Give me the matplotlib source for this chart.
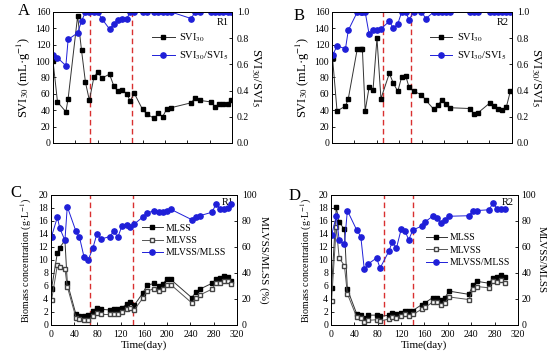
import matplotlib
matplotlib.use('Agg')
import matplotlib.pyplot as plt

plt.rcParams['font.family'] = ['Liberation Serif', 'DejaVu Serif']
plt.rcParams['mathtext.fontset'] = 'stix'
plt.rcParams['xtick.direction'] = 'in'
plt.rcParams['ytick.direction'] = 'in'

# ---- data ----
# A: reactor R1, sludge volume index
a_day = [0, 8, 23, 27, 44, 51, 58, 65, 73, 80, 87, 101, 109, 116, 123, 132, 138, 145, 160, 168,
         181, 188, 196, 203, 211, 247, 254, 262, 283, 290, 297, 304, 312, 318]
a_svi = [100, 50, 38, 54, 155, 113, 74, 52, 80, 87, 79, 84, 69, 63, 65, 60, 51, 61, 41, 35,
         30, 36, 32, 41, 43, 49, 55, 52, 50, 44, 47, 48, 47, 53]
a_ratio = [0.67, 0.65, 0.59, 0.79, 0.84, 0.93, 1, 1, 1, 1, 0.95, 0.87, 0.91, 0.94, 0.95, 0.95, 1, 1, 1, 1,
           1, 1, 1, 1, 1, 0.95, 1, 1, 1, 1, 1, 1, 1, 1]

# B: reactor R2
b_day = [1, 9, 24, 29, 45, 51, 54, 59, 66, 73, 80, 87, 102, 109, 117, 124, 131, 137, 145, 159,
         167, 181, 188, 195, 202, 209, 245, 253, 260, 281, 288, 296, 303, 310, 317]
b_svi = [104, 39, 45, 54, 115, 115, 115, 39, 68, 65, 128, 54, 85, 73, 63, 81, 82, 68, 63, 59,
         52, 41, 46, 52, 48, 43, 42, 35, 37, 49, 45, 42, 40, 44, 63]
b_ratio = [0.67, 0.74, 0.72, 0.86, 1, 1, 1, 1, 0.83, 0.86, 0.86, 0.87, 0.93, 0.875, 0.91, 1, 1, 0.94, 1, 1,
           0.95, 1, 1, 1, 1, 1, 1, 1, 1, 1, 1, 1, 1, 1, 1]

# C: R1 biomass
c_day = [1, 11, 15, 24, 28, 43, 49, 57, 64, 72, 79, 86, 101, 108, 115, 122, 130, 136, 143, 158,
         165, 178, 185, 192, 199, 206, 242, 249, 256, 277, 284, 291, 297, 305, 310]
c_mlss = [5.6, 11.1, 11.9, 13.0, 6.5, 1.6, 1.3, 1.4, 1.5, 2.2, 2.6, 2.4, 2.3, 2.4, 2.4, 2.6, 3.2, 3.5, 3.0, 4.9,
          6.1, 6.4, 6.0, 6.3, 7.0, 7.0, 4.2, 5.0, 5.5, 6.4, 7.0, 7.2, 7.5, 7.4, 6.8]
c_mlvss = [3.8, 9.2, 8.9, 8.6, 5.9, 1.1, 0.9, 0.8, 0.8, 1.3, 1.8, 1.6, 1.6, 1.7, 1.6, 2.0, 2.4, 2.6, 2.3, 4.1,
           5.2, 5.6, 5.2, 5.5, 6.1, 6.2, 3.4, 4.1, 4.6, 5.5, 6.5, 6.4, 6.7, 6.7, 6.3]
c_ratio = [68, 83, 74.5, 65, 91, 72, 67.5, 52, 50, 59, 70, 66, 68, 72, 67.5, 76, 77, 75, 77.5, 83,
           86, 88, 87, 86.7, 87.5, 89, 81, 83, 84, 86.7, 93, 89, 89, 90, 93]

# D: R2 biomass
d_day = [1, 9, 14, 23, 28, 44, 51, 57, 64, 78, 84, 99, 105, 112, 120, 127, 133, 140, 155, 161,
         174, 181, 188, 195, 202, 236, 243, 250, 271, 277, 284, 291, 298]
d_mlss = [5.7, 18.1, 15.8, 14.7, 5.5, 1.7, 1.5, 1.0, 1.5, 1.5, 1.3, 1.5, 1.8, 1.7, 1.9, 2.2, 2.2, 2.2, 3.1, 3.4,
          4.2, 4.2, 3.9, 4.2, 5.2, 4.7, 6.2, 6.7, 6.4, 7.2, 7.4, 7.7, 7.3]
d_mlvss = [3.7, 15.1, 10.3, 9.1, 4.8, 1.2, 1.0, 0.4, 0.7, 0.8, 0.6, 0.9, 1.2, 1.0, 1.4, 1.6, 1.4, 1.6, 2.4, 2.7,
           3.5, 3.5, 3.1, 3.4, 4.3, 3.9, 5.5, 5.9, 5.7, 6.8, 6.6, 6.9, 6.5]
d_ratio = [69, 83.6, 65.4, 62, 88, 73, 68, 42.7, 47, 51.5, 43.7, 56.6, 64, 59, 73.5, 72, 65.4, 73, 76, 79.3,
           83.6, 82.3, 78.5, 81, 83.6, 84, 88, 88, 88.6, 94, 89.4, 89.4, 89.4]

stage_r1 = [67, 141]
stage_r2 = [90, 140]

BLUE = '#1f1fd8'
RED = '#d93030'

fig = plt.figure(figsize=(5.5, 3.59), dpi=100)


def base_axes(rect, ymax, ystep, r_max, r_step, stages, xlabels):
    ax = fig.add_axes(rect)
    ax2 = ax.twinx()
    ax.set_xlim(0, 320)
    ax.set_xticks(range(0, 321, 40))
    ax.set_ylim(0, ymax)
    ax.set_yticks([ystep * i for i in range(int(ymax / ystep) + 1)])
    ax2.set_ylim(0, r_max)
    ax2.set_yticks([r_step * i for i in range(int(round(r_max / r_step)) + 1)])
    ax.tick_params(axis='y', labelsize=7, length=2.5, width=0.6, pad=2)
    ax.tick_params(axis='x', labelsize=7, length=2.5, width=0.6, pad=4)
    ax2.tick_params(labelsize=7, length=2.5, width=0.6, pad=3.5)
    for a in (ax, ax2):
        for s in a.spines.values():
            s.set_linewidth(0.7)
    if not xlabels:
        ax.set_xticklabels([])
    for d in stages:
        ax.axvline(d, color=RED, ls=(0, (4, 2.5)), lw=1.0, zorder=1)
    ax2.set_zorder(ax.get_zorder() + 1)
    return ax, ax2


# A
ax, ax2 = base_axes([0.0964, 0.602, 0.3254, 0.3646], 160, 20, 1.0, 0.2, stage_r1, False)
l1, = ax.plot(a_day, a_svi, color='#333333', lw=0.7, marker='s', ms=3.4, mfc='black', mec='black', label='SVI$_{30}$')
l2, = ax2.plot(a_day, a_ratio, color=BLUE, lw=0.7, marker='o', ms=3.8, mfc=BLUE, mec=BLUE, label='SVI$_{30}$/SVI$_5$')
ax2.set_yticklabels(['0.0', '0.2', '0.4', '0.6', '0.8', '1.0'])
ax.set_ylabel('SVI$_{30}$ (mL·g$^{-1}$)', fontsize=9, labelpad=2)
ax2.set_ylabel('SVI$_{30}$/SVI$_5$', fontsize=9, rotation=270, labelpad=10)
ax2.legend([l1, l2], [l1.get_label(), l2.get_label()], loc='center left', bbox_to_anchor=(0.5, 0.735),
           frameon=False, fontsize=7.5, handlelength=2.2, handletextpad=0.4, labelspacing=0.5)
ax.text(0.98, 0.9, 'R1', transform=ax.transAxes, ha='right', fontsize=7.5, zorder=5)
fig.text(0.033, 0.97, 'A', fontsize=12, va='center')

# B
ax, ax2 = base_axes([0.6036, 0.602, 0.3273, 0.3646], 160, 20, 1.0, 0.2, stage_r2, False)
l1, = ax.plot(b_day, b_svi, color='#333333', lw=0.7, marker='s', ms=3.4, mfc='black', mec='black', label='SVI$_{30}$')
l2, = ax2.plot(b_day, b_ratio, color=BLUE, lw=0.7, marker='o', ms=3.8, mfc=BLUE, mec=BLUE, label='SVI$_{30}$/SVI$_5$')
ax2.set_yticklabels(['0.0', '0.2', '0.4', '0.6', '0.8', '1.0'])
ax.set_ylabel('SVI$_{30}$ (mL·g$^{-1}$)', fontsize=9, labelpad=2)
ax2.set_ylabel('SVI$_{30}$/SVI$_5$', fontsize=9, rotation=270, labelpad=10)
ax2.legend([l1, l2], [l1.get_label(), l2.get_label()], loc='center left', bbox_to_anchor=(0.49, 0.735),
           frameon=False, fontsize=7.5, handlelength=2.2, handletextpad=0.4, labelspacing=0.5)
ax.text(0.98, 0.9, 'R2', transform=ax.transAxes, ha='right', fontsize=7.5, zorder=5)
fig.text(0.533, 0.955, 'B', fontsize=12, va='center')

# C
ax, ax2 = base_axes([0.0927, 0.095, 0.3382, 0.362], 20, 2, 100, 20, stage_r1, True)
l1, = ax.plot(c_day, c_mlss, color='#333333', lw=0.7, marker='s', ms=3.4, mfc='black', mec='black', label='MLSS')
l2, = ax.plot(c_day, c_mlvss, color='#555555', lw=0.7, marker='s', ms=3.4, mfc='white', mec='#444444', label='MLVSS')
l3, = ax2.plot(c_day, c_ratio, color=BLUE, lw=0.7, marker='o', ms=3.8, mfc=BLUE, mec=BLUE, label='MLVSS/MLSS')
ax.set_ylabel('Biomass concentration (g·L$^{-1}$)', fontsize=7.2, labelpad=3)
ax2.set_ylabel('MLVSS/MLSS (%)', fontsize=8, rotation=270, labelpad=9)
ax.set_xlabel('Time(day)', fontsize=8, labelpad=1)
ax2.legend([l1, l2, l3], ['MLSS', 'MLVSS', 'MLVSS/MLSS'], loc='center left', bbox_to_anchor=(0.44, 0.65),
           frameon=False, fontsize=7, handlelength=2.2, handletextpad=0.3, labelspacing=0.35)
ax.text(0.98, 0.92, 'R1', transform=ax.transAxes, ha='right', fontsize=7.5, zorder=5)
fig.text(0.018, 0.462, 'C', fontsize=12, va='center')

# D
ax, ax2 = base_axes([0.6018, 0.095, 0.3400, 0.362], 20, 2, 100, 20, stage_r2, True)
l1, = ax.plot(d_day, d_mlss, color='#333333', lw=0.7, marker='s', ms=3.4, mfc='black', mec='black', label='MLSS')
l2, = ax.plot(d_day, d_mlvss, color='#555555', lw=0.7, marker='s', ms=3.4, mfc='white', mec='#444444', label='MLVSS')
l3, = ax2.plot(d_day, d_ratio, color=BLUE, lw=0.7, marker='o', ms=3.8, mfc=BLUE, mec=BLUE, label='MLVSS/MLSS')
ax2.tick_params(pad=2.5)
ax.set_ylabel('Biomass concentration (g·L$^{-1}$)', fontsize=7.2, labelpad=3)
ax2.set_ylabel('MLVSS/MLSS', fontsize=7.8, rotation=270, labelpad=7)
ax.set_xlabel('Time(day)', fontsize=8, labelpad=1)
ax2.legend([l1, l2, l3], ['MLSS', 'MLVSS', 'MLVSS/MLSS'], loc='center left', bbox_to_anchor=(0.46, 0.575),
           frameon=False, fontsize=7, handlelength=2.2, handletextpad=0.3, labelspacing=0.35)
ax.text(0.98, 0.92, 'R2', transform=ax.transAxes, ha='right', fontsize=7.5, zorder=5)
fig.text(0.525, 0.455, 'D', fontsize=12, va='center')

fig.savefig('out.png', dpi=100)
